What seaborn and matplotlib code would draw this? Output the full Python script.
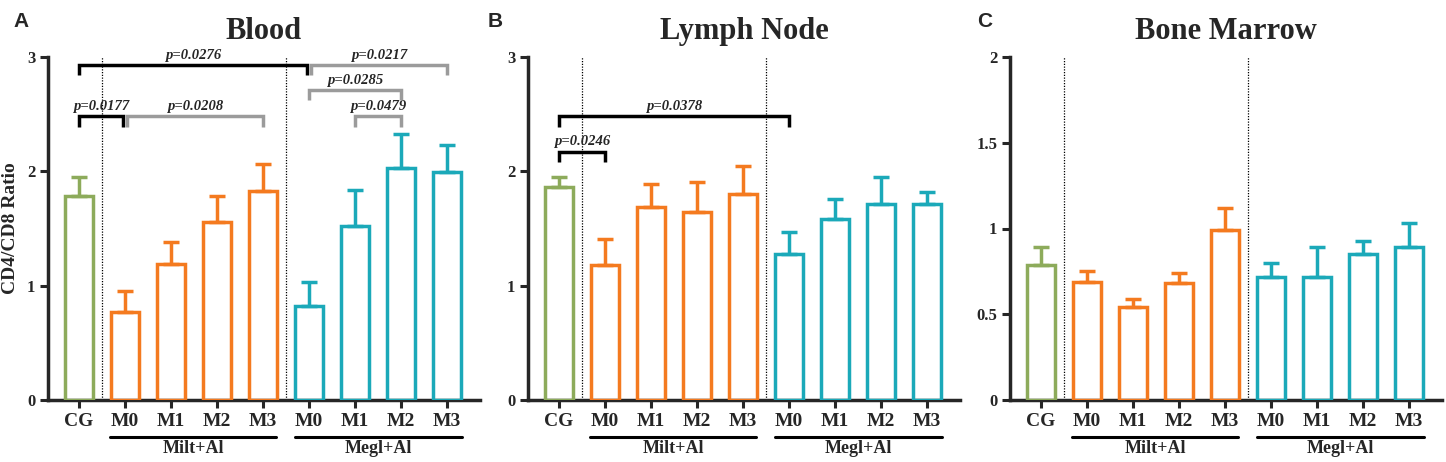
import numpy as np
import pandas as pd
import matplotlib
matplotlib.use("Agg")
import matplotlib.pyplot as plt
import matplotlib.transforms as mtransforms
import seaborn as sns

# -----------------------------
# Data
# -----------------------------
groups = ["CG", "Milt M0", "Milt M1", "Milt M2", "Milt M3",
          "Megl M0", "Megl M1", "Megl M2", "Megl M3"]
tick_labels = ["CG", "M0", "M1", "M2", "M3", "M0", "M1", "M2", "M3"]
treatments = ["Milt+Al", "Megl+Al"]

blood_mean = [1.78, 0.77, 1.19, 1.56, 1.83, 0.82, 1.52, 2.03, 1.99]
blood_sem = [0.17, 0.18, 0.19, 0.22, 0.23, 0.21, 0.32, 0.30, 0.24]

lymph_mean = [1.86, 1.18, 1.69, 1.64, 1.80, 1.28, 1.58, 1.71, 1.71]
lymph_sem = [0.09, 0.23, 0.20, 0.27, 0.25, 0.19, 0.18, 0.24, 0.11]

marrow_mean = [0.79, 0.69, 0.54, 0.68, 0.99, 0.72, 0.72, 0.85, 0.89]
marrow_sem = [0.10, 0.06, 0.05, 0.06, 0.13, 0.08, 0.17, 0.08, 0.14]

# significance brackets: (from, to, height, label, dark?)
blood_pvals = [
    (0.0, 4.96, 2.93, "p=0.0276", True),
    (5.04, 8.0, 2.93, "p=0.0217", False),
    (5.0, 7.0, 2.71, "p=0.0285", False),
    (0.0, 0.96, 2.48, "p=0.0177", True),
    (1.04, 4.0, 2.48, "p=0.0208", False),
    (6.0, 7.0, 2.48, "p=0.0479", False),
]
lymph_pvals = [
    (0.0, 5.0, 2.48, "p=0.0378", True),
    (0.0, 1.0, 2.17, "p=0.0246", True),
]
marrow_pvals = []

GREEN = "#8dab5b"
ORANGE = "#f47a1f"
TEAL = "#1ba9b9"
GREY = "#9b9b9b"
palette = [GREEN] + [ORANGE] * 4 + [TEAL] * 4

sns.set_style("ticks")
plt.rcParams["font.family"] = ["Liberation Serif", "DejaVu Serif"]
plt.rcParams["font.weight"] = "bold"

fig = plt.figure(figsize=(14.46, 4.62), dpi=100)

panels = [
    ("A", "Blood", blood_mean, blood_sem, blood_pvals, 3, [0, 1, 2, 3], ["0", "1", "2", "3"]),
    ("B", "Lymph Node", lymph_mean, lymph_sem, lymph_pvals, 3, [0, 1, 2, 3], ["0", "1", "2", "3"]),
    ("C", "Bone Marrow", marrow_mean, marrow_sem, marrow_pvals, 2,
     [0, 0.5, 1, 1.5, 2], ["0", "0.5", "1", "1.5", "2"]),
]
lefts = [48, 528, 1010]
letter_x = [13, 488, 977]

for k, (letter, title, means, sems, pvals, ymax, yticks, ylabels) in enumerate(panels):
    ax = fig.add_axes([lefts[k] / 1446, 1 - 400 / 462, 432 / 1446, 343 / 462])
    df = pd.DataFrame({"group": groups, "value": means})

    sns.barplot(data=df, x="group", y="value", hue="group", palette=palette,
                fill=False, linewidth=2.5, width=0.6, errorbar=None,
                legend=False, ax=ax, zorder=3)

    for i, (m, s) in enumerate(zip(means, sems)):
        ax.errorbar(i, m, yerr=[[0], [s]], fmt="none", ecolor=palette[i],
                    elinewidth=2.5, capsize=6, capthick=2.5, zorder=3)

    # dotted separators between groups
    for xs in [0.5, 4.5]:
        ax.axvline(xs, 0, 1, color="black", linestyle=(0, (1, 1.2)), linewidth=0.9, zorder=1)

    # significance brackets
    for x1, x2, y, lab, dark in pvals:
        c = "black" if dark else GREY
        leg = 0.09
        ax.plot([x1, x1, x2, x2], [y - leg, y, y, y - leg], color=c,
                linewidth=2.5, solid_capstyle="butt", solid_joinstyle="miter",
                clip_on=False, zorder=4)
        ax.text((x1 + x2) / 2, y + 0.03, lab, ha="center", va="bottom",
                fontsize=10.5, fontstyle="italic", fontweight="bold")

    ax.set_xlim(-0.674, 8.72)
    ax.set_ylim(0, ymax)
    ax.set_yticks(yticks)
    ax.set_yticklabels(ylabels, fontsize=12, fontweight="bold")
    ax.set_xticks(range(len(groups)))
    ax.set_xticklabels(tick_labels, fontsize=14, fontweight="bold")
    ax.set_xlabel("")
    ax.set_ylabel("")
    sns.despine(ax=ax)
    for sp in ["left", "bottom"]:
        ax.spines[sp].set_linewidth(2.5)
    ax.tick_params(axis="both", width=2.2, length=6, pad=3)

    ax.set_title(title, fontsize=22, fontweight="bold", pad=13)

    # group underlines and labels
    trans = mtransforms.blended_transform_factory(ax.transData, ax.transAxes)
    for (a, b), name in zip([(0.68, 4.28), (4.70, 8.33)], treatments):
        ax.plot([a, b], [-0.108, -0.108], color="black", linewidth=2.2,
                transform=trans, clip_on=False)
        ax.text((a + b) / 2, -0.118, name, transform=trans, ha="center",
                va="top", fontsize=13, fontweight="bold")

    fig.text(letter_x[k] / 1446, 1 - 27 / 462, letter, fontsize=15,
             fontweight="bold", family=["Liberation Sans", "DejaVu Sans"],
             ha="left", va="baseline")

    if k == 0:
        ax.set_ylabel("CD4/CD8 Ratio", fontsize=14, fontweight="bold")
        ax.yaxis.set_label_coords(-0.066, 0.5)

fig.savefig("out.png", dpi=100)
